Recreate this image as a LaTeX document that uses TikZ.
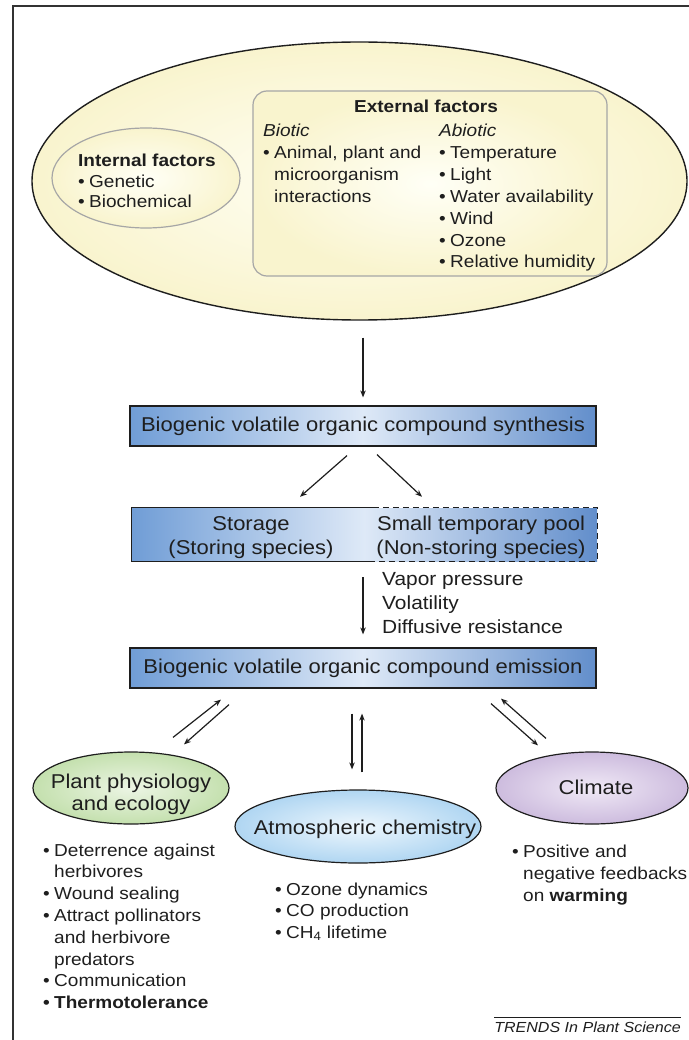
\documentclass[tikz,border=0pt]{standalone}
\usepackage{fontspec}
\setmainfont[FakeStretch=1.1]{Liberation Sans}
\usetikzlibrary{shapes.geometric,arrows.meta,calc}
\definecolor{creamin}{RGB}{255,255,246}
\definecolor{creamout}{RGB}{249,244,206}
\definecolor{boxL}{RGB}{112,157,214}
\definecolor{boxM}{RGB}{222,233,247}
\definecolor{boxR}{RGB}{98,142,203}
\definecolor{greenin}{RGB}{236,245,228}
\definecolor{greenout}{RGB}{196,224,174}
\definecolor{bluein}{RGB}{238,247,253}
\definecolor{blueout}{RGB}{176,214,242}
\definecolor{purpin}{RGB}{240,233,246}
\definecolor{purpout}{RGB}{205,188,222}
\definecolor{ink}{RGB}{30,30,30}
\newcommand{\blt}{\makebox[11pt][l]{\textbullet}}
\newcommand{\hng}{\hspace*{11pt}}
\begin{document}
\begin{tikzpicture}[x=1pt,y=-1pt,
  arr/.style={-{Stealth[length=7pt,width=5.5pt]}, line width=1.2pt, draw=ink},
  body/.style={font=\fontsize{17.3}{21.8}\selectfont, inner sep=0pt, align=left, anchor=base west, text=ink},
  boxtext/.style={font=\fontsize{20}{24}\selectfont, inner sep=0pt, text=ink},
  bluebox/.style={rectangle, left color=boxL, right color=boxR, middle color=boxM, inner sep=0pt},
  ell/.style={ellipse, inner sep=0pt, draw=ink, line width=1.2pt},
]
\useasboundingbox (0,0) rectangle (688,1040);
% frame
\draw[line width=1.4pt, draw=black!80] (13,1045) -- (13,6) -- (695,6);

% top ellipse
\node[ell, line width=1.4pt, inner color=creamin, outer color=creamout, minimum width=655pt, minimum height=278pt] (bigE) at (359.5,181) {};
\node[ellipse, inner sep=0pt, draw=black!35, line width=1.2pt, inner color=creamin, outer color=creamout, minimum width=188pt, minimum height=100pt] (intE) at (146,178) {};
\node[body, font=\fontsize{17.3}{20.5}\selectfont] (intT) at (78,208) {\textbf{Internal factors}\\\blt Genetic\\\blt Biochemical};
\node[rectangle, rounded corners=14pt, draw=black!35, line width=1.2pt, inner color=creamin, outer color=creamout, minimum width=354pt, minimum height=185pt, inner sep=0pt] (extR) at (430,183.5) {};
\node[body, anchor=base] (extT) at (426,113) {\textbf{External factors}};
\node[body] (biot) at (263,202.4) {\textit{Biotic}\\\blt Animal, plant and\\\hng microorganism\\\hng interactions};
\node[body] (abiot) at (439,267.8) {\textit{Abiotic}\\\blt Temperature\\\blt Light\\\blt Water availability\\\blt Wind\\\blt Ozone\\\blt Relative humidity};

% synthesis box
\node[bluebox, draw=ink, line width=1.2pt, minimum width=466pt, minimum height=40pt] (synth) at (363,426) {};
\node[boxtext] (synthT) at (synth.center) {Biogenic volatile organic compound synthesis};

% storage box
\node[bluebox, minimum width=465pt, minimum height=53pt] (store) at (364.5,534.5) {};
\coordinate (splitT) at ([xshift=241pt]store.north west);
\coordinate (splitB) at ([xshift=241pt]store.south west);
\draw[line width=1.2pt, draw=ink] (splitT) -- (store.north west) -- (store.south west) -- (splitB);
\draw[line width=1.2pt, draw=ink, dash pattern=on 6pt off 4pt] (splitT) -- (store.north east) -- (store.south east) -- (splitB);
\node[boxtext, align=center, anchor=base] (storeT) at (251,554) {Storage\\(Storing species)};
\node[boxtext, align=center, anchor=base] (poolT) at (481,554) {Small temporary pool\\(Non-storing species)};

% emission box
\node[bluebox, draw=ink, line width=1.2pt, minimum width=466pt, minimum height=40pt] (emit) at (363,668) {};
\node[boxtext] (emitT) at (emit.center) {Biogenic volatile organic compound emission};

\node[body, font=\fontsize{19}{24.3}\selectfont] (vap) at (382,633.6) {Vapor pressure\\Volatility\\Diffusive resistance};

% bottom ellipses
\node[ell, inner color=greenin, outer color=greenout, minimum width=196pt, minimum height=72pt] (plant) at (131,788) {};
\node[boxtext, align=center, anchor=base, font=\fontsize{20}{22}\selectfont] (plantT) at (131,810) {Plant physiology\\and ecology};
\node[ell, inner color=bluein, outer color=blueout, minimum width=246pt, minimum height=73pt] (atm) at (358,826.5) {};
\node[boxtext, anchor=base] (atmT) at (365,834) {Atmospheric chemistry};
\node[ell, inner color=purpin, outer color=purpout, minimum width=192pt, minimum height=72pt] (clim) at (592,788) {};
\node[boxtext, anchor=base] (climT) at (596,794) {Climate};

% lists
\node[body] (plantL) at (43,1008.6) {\blt Deterrence against\\\hng herbivores\\\blt Wound sealing\\\blt Attract pollinators\\\hng and herbivore\\\hng predators\\\blt Communication\\\textbf{\blt Thermotolerance}};
\node[body, font=\fontsize{17.3}{21.5}\selectfont] (atmL) at (275,938) {\blt Ozone dynamics\\\blt CO production\\\blt CH\textsubscript{4} lifetime};
\node[body, font=\fontsize{17.3}{22.3}\selectfont] (climL) at (512,901.6) {\blt Positive and\\\hng negative feedbacks\\\hng on \textbf{warming}};

% connectors
\draw[arr, shorten <=17pt, shorten >=8pt] (synth.north |- bigE.south) -- (synth.north);
\draw[arr] ([xshift=-16pt,yshift=-9pt]synth.south) -- ([xshift=-64.5pt,yshift=11pt]store.north);
\draw[arr] ([xshift=14pt,yshift=-8pt]synth.south) -- ([xshift=57.5pt,yshift=11pt]store.north);
\draw[arr, shorten <=16pt, shorten >=13pt] (emit.north |- store.south) -- (emit.north);

\draw[arr] ([xshift=42pt,yshift=14pt]plant.north) -- ([xshift=-142pt,yshift=-11pt]emit.south);
\draw[arr] ([xshift=-134pt,yshift=-16pt]emit.south) -- ([xshift=53pt,yshift=7pt]plant.north);
\draw[arr] ([xshift=-11pt,yshift=-25pt]emit.south) -- ([xshift=-6pt,yshift=20pt]atm.north);
\draw[arr] ([xshift=4pt,yshift=17pt]atm.north) -- ([xshift=-1pt,yshift=-25pt]emit.south);
\draw[arr] ([xshift=128pt,yshift=-15pt]emit.south) -- ([xshift=-54pt,yshift=6pt]clim.north);
\draw[arr] ([xshift=-46pt,yshift=13pt]clim.north) -- ([xshift=138pt,yshift=-10pt]emit.south);

% credit
\node[inner sep=0pt, anchor=base east, font=\fontsize{14.6}{16}\selectfont\itshape, text=ink] (trends) at (681,1032) {TRENDS In Plant Science};
\draw[line width=0.8pt, draw=ink] ([yshift=4pt]trends.north west) -- ([yshift=4pt]trends.north east);
\end{tikzpicture}
\end{document}
